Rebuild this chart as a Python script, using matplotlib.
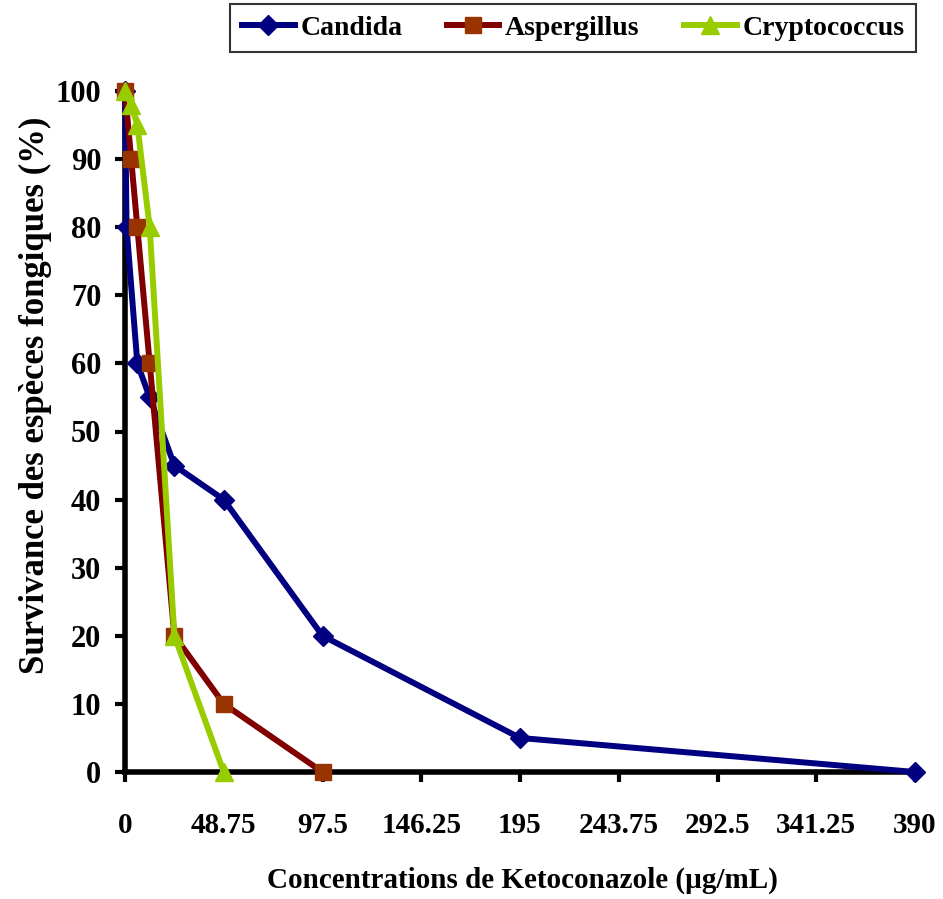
import matplotlib.pyplot as plt

# concentrations (ug/mL) and survival (%)
candida_x = [0, 0.76, 6.09, 12.19, 24.375, 48.75, 97.5, 195, 390]
candida_y = [100, 80, 60, 55, 45, 40, 20, 5, 0]

asper_x = [0, 3.05, 6.09, 12.19, 24.375, 48.75, 97.5]
asper_y = [100, 90, 80, 60, 20, 10, 0]

crypto_x = [0, 3.05, 6.09, 12.19, 24.375, 48.75]
crypto_y = [100, 98, 95, 80, 20, 0]

xticks = [0, 48.75, 97.5, 146.25, 195, 243.75, 292.5, 341.25, 390]
xticklabels = ["0", "48.75", "97.5", "146.25", "195", "243.75", "292.5", "341.25", "390"]
yticks = list(range(0, 101, 10))

plt.rcParams['font.family'] = ['Liberation Serif', 'DejaVu Serif']
plt.rcParams['font.weight'] = 'bold'

fig = plt.figure(figsize=(9.43, 8.99), dpi=100)
ax = fig.add_axes([125/943, 1-772/899, (915-125)/943, (772-91)/899])

ax.plot(candida_x, candida_y, color='#000080', lw=4.3, marker='D', ms=10,
        mfc='#000080', mec='#000080', label='Candida', clip_on=False, zorder=3)
ax.plot(asper_x, asper_y, color='#800000', lw=4.3, marker='s', ms=11.5,
        mfc='#993300', mec='#993300', label='Aspergillus', clip_on=False, zorder=4)
ax.plot(crypto_x, crypto_y, color='#99CC00', lw=4.3, marker='^', ms=13,
        mfc='#99CC00', mec='#99CC00', label='Cryptococcus', clip_on=False, zorder=5)

ax.set_xlim(0, 390)
ax.set_ylim(0, 100)
ax.set_xticks(xticks)
ax.set_xticklabels(xticklabels)
ax.set_yticks(yticks)

for s in ['top', 'right']:
    ax.spines[s].set_visible(False)
for s in ['left', 'bottom']:
    ax.spines[s].set_linewidth(4)

ax.tick_params(axis='x', direction='out', length=7, width=3, pad=22, labelsize=21)
ax.tick_params(axis='y', direction='out', length=7, width=3, pad=10, labelsize=22)

fig.text(522/943, 1-880/899, "Concentrations de Ketoconazole (µg/mL)",
         fontsize=21, fontweight='bold', ha='center', va='center')
fig.text(35/943, 1-395/899, "Survivance des espèces fongiques (%)",
         fontsize=25, fontweight='bold', ha='center', va='center', rotation=90)

leg = ax.legend(loc='center', bbox_to_anchor=(573/943, 1-28/899),
                bbox_transform=fig.transFigure, ncol=3, fontsize=20,
                frameon=True, fancybox=False, handlelength=1.9,
                columnspacing=1.6, borderpad=0.42, borderaxespad=0,
                handletextpad=0.2)
leg.get_frame().set_edgecolor('black')
leg.get_frame().set_linewidth(1.5)

fig.savefig('out.png', dpi=100)
